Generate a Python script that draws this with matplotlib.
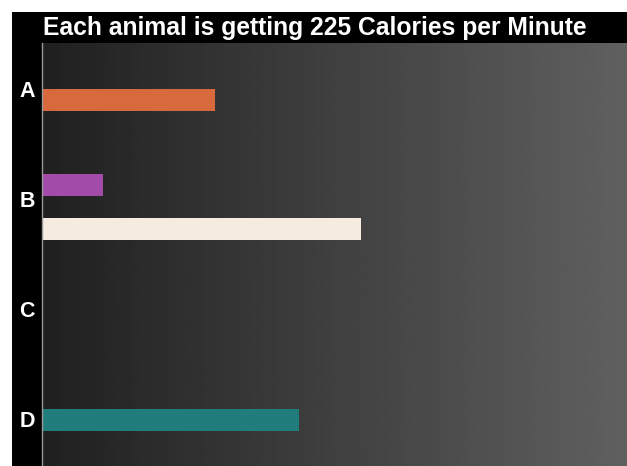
import numpy as np
import matplotlib.pyplot as plt
from matplotlib.patches import Rectangle

# =========================
# DATA
# =========================

categories = ["A", "B", "C", "D"]
title = "Each animal is getting 225 Calories per Minute"

# one entry per bar: which category it belongs to, its slot offset in that row, its value
bar_category = [0, 1, 1, 3]
bar_offset = [0.10, -0.13, 0.27, 0.01]
bar_values = [29.6, 10.4, 54.5, 44.0]
bar_colors = ["#d8693c", "#a24ba8", "#f6ebe0", "#1f7e7c"]

W, H = 627, 466
DPI = 100

fig = plt.figure(figsize=(W / DPI, H / DPI), dpi=DPI, facecolor="white")

# black panel behind everything (white margin left/top)
fig.patches.append(Rectangle((12 / W, 0), 1 - 12 / W, 1 - 12 / H,
                             transform=fig.transFigure, facecolor="black",
                             edgecolor="none", zorder=-1))

ax = fig.add_axes([42 / W, 0, 1 - 42 / W, 1 - 43 / H])
ax.set_facecolor("#202020")

# horizontal grey gradient background, ~#202020 -> ~#606060
grad = np.linspace(0, 1, 256).reshape(1, -1)
ax.imshow(grad, extent=[0, 1, 0, 1], transform=ax.transAxes, aspect="auto",
          cmap="gray", vmin=-0.50, vmax=3.48, zorder=0)

ypos = [bar_category[i] + bar_offset[i] for i in range(len(bar_values))]
ax.barh(ypos, bar_values, height=0.2, color=bar_colors, zorder=2)

ax.set_xlim(0, 100)
ax.set_ylim(3.427, -0.418)

ax.set_yticks(range(len(categories)))
ax.set_yticklabels(categories, color="white", fontsize=15.5,
                   fontweight="bold", family="Liberation Sans")
ax.tick_params(axis="y", length=0, pad=5)
ax.set_xticks([])

for s in ["top", "right", "bottom"]:
    ax.spines[s].set_visible(False)
ax.spines["left"].set_color("#9a9a9a")
ax.spines["left"].set_linewidth(1.0)

fig.text(43 / W, 1 - 35.5 / H, title, color="white", fontsize=17.7,
         fontweight="bold", family="Liberation Sans", ha="left", va="baseline")

fig.savefig("out.png", dpi=DPI, facecolor="white")
